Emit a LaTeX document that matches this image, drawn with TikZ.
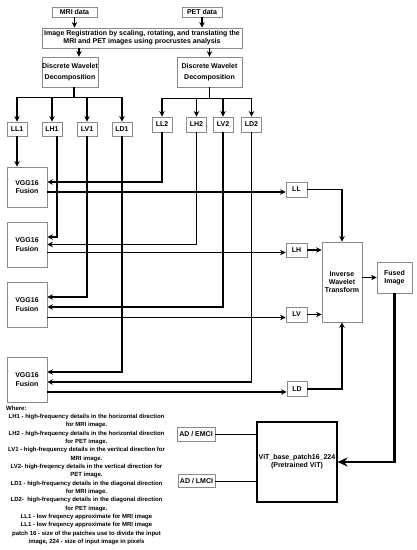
\documentclass[tikz,border=0pt]{standalone}
\usepackage{fontspec}
\setmainfont{Liberation Sans}
\usetikzlibrary{arrows.meta}
\definecolor{edge}{HTML}{8A8A8A}

\begin{document}
\begin{tikzpicture}[x=1pt,y=-1pt,
  box/.style={draw=edge,line width=0.8pt,fill=white,inner sep=0pt,align=center,
    font=\bfseries\fontsize{7}{8.3}\selectfont},
  sz/.style 2 args={minimum width=#1pt,minimum height=#2pt},
  wire/.style={line width=1.4pt,line cap=rect},
  arr/.style={line width=1.4pt,-{Stealth[length=5.5pt,width=5.5pt]}},
  note/.style={inner sep=0pt,align=center,font=\bfseries\fontsize{6}{8.33}\selectfont}]
  \useasboundingbox (0,0) rectangle (417,550);
  \node[box,sz={45}{10}] (mri) at (74.5,12) {MRI data};
  \node[box,sz={40}{10}] (pet) at (202,12) {PET data};
  \node[box,sz={200}{20}] (reg) at (142,38) {Image Registration by scaling, rotating, and translating the\\MRI and PET images using procrustes analysis};
  \node[box,sz={56}{30},font=\bfseries\fontsize{7}{11}\selectfont] (dwtA) at (70,72) {Discrete Wavelet\\Decomposition};
  \node[box,sz={65}{30},font=\bfseries\fontsize{7}{11}\selectfont] (dwtB) at (209.5,72) {Discrete Wavelet\\Decomposition};
  \foreach \n/\t/\x in {ll1/LL1/17,lh1/LH1/52,lv1/LV1/87,ld1/LD1/122}
    \node[box,sz={20}{14}] (\n) at (\x,129) {\t};
  \foreach \n/\t/\x in {ll2/LL2/162,lh2/LH2/196.5,lv2/LV2/223,ld2/LD2/251.5}
    \node[box,sz={20}{15}] (\n) at (\x,124.5) {\t};
  \node[box,sz={40}{40}] (vgg1) at (27,187) {VGG16\\Fusion};
  \node[box,sz={40}{45}] (vgg2) at (27,244.5) {VGG16\\Fusion};
  \node[box,sz={40}{45}] (vgg3) at (27,304.5) {VGG16\\Fusion};
  \node[box,sz={40}{45}] (vgg4) at (27,379.5) {VGG16\\Fusion};
  \node[box,sz={21}{15}] (ll) at (296.5,189.5) {LL};
  \node[box,sz={21}{14}] (lh) at (296.5,250) {LH};
  \node[box,sz={21}{15}] (lv) at (296.5,314.5) {LV};
  \node[box,sz={20}{15}] (ld) at (297,389) {LD};
  \node[box,sz={40}{80}] (iwt) at (342,282) {Inverse\\Wavelet\\Transform};
  \node[box,sz={35}{31}] (fused) at (394.5,277.5) {Fused\\Image};
  \node[box,sz={80}{80},draw=black,line width=1.1pt] (vit) at (297,462) {ViT\_base\_patch16\_224\\(Pretrained ViT)};
  \node[box,sz={38}{14}] (emci) at (196,434) {AD / EMCI};
  \node[box,sz={37}{13}] (lmci) at (196.5,481) {AD / LMCI};

  \draw[arr] (mri) -- (mri |- reg.north);
  \draw[arr] (pet) -- (pet |- reg.north);
  \path ([xshift=9pt]dwtA.north) coordinate (inA);
  \draw[arr] (inA |- reg.south) -- (inA);
  \draw[arr] (dwtB |- reg.south) -- (dwtB.north);
  \draw[wire] ([xshift=4pt]dwtA.south) -- ++(0,10) coordinate (busA);
  \draw[wire] (ll1 |- busA) -- (ld1 |- busA);
  \foreach \n in {ll1,lh1,lv1,ld1} \draw[arr] (\n |- busA) -- (\n.north);
  \draw[wire] (dwtB.south) -- ++(0,11) coordinate (busB);
  \draw[wire] (ll2 |- busB) -- (ld2 |- busB);
  \foreach \n in {ll2,lh2,lv2,ld2} \draw[arr] (\n |- busB) -- (\n.north);

  \draw[arr] (ll1.south) -- (ll1 |- vgg1.north);
  \draw[arr] (ll2.south) |- ([yshift=5pt]vgg1.east);
  \draw[arr] ([xshift=5pt]lh1.south) |- ([yshift=7.5pt]vgg2.east);
  \draw[arr] (lh2.south) |- (vgg2.east);
  \draw[arr] (lv1.south) |- ([yshift=7.5pt]vgg3.east);
  \draw[arr] (lv2.south) |- ([yshift=-2.5pt]vgg3.east);
  \draw[arr] (ld1.south) |- ([yshift=7.5pt]vgg4.east);
  \draw[arr] (ld2.south) |- ([yshift=-2.5pt]vgg4.east);
  \foreach \v/\o/\s in {vgg1/ll/-5,vgg2/lh/-8,vgg3/lv/-13,vgg4/ld/-12.5}
    \draw[arr] ([yshift=\s pt]\v.east) coordinate (out) -- (out -| \o.west);

  \draw[arr] (ll.east) -| (iwt.north);
  \draw[arr] (lh.east) -- (lh.east -| iwt.west);
  \draw[arr] (lv.east) -- (lv.east -| iwt.west);
  \draw[arr] (ld.east) -| (iwt.south);
  \draw[arr] (fused.west -| iwt.east) -- (fused.west);
  \draw[line width=2.8pt,-{Stealth[length=10pt,width=9pt]}] (fused.south) |- (vit.east);
  \draw[line width=0.9pt] (emci.east) -- (emci.east -| vit.west);
  \draw[line width=0.9pt] (lmci.east) -- (lmci.east -| vit.west);

  \node[note,anchor=west] (where) at (6,408) {Where:};
  \node[note,anchor=north] (notes) at (86.5,414) {LH1 - high-frequency details in the horizontal direction\\for MRI image.\\LH2 - high-frequency details in the horizontal direction\\for PET image.\\LV1 - high-frequency details in the vertical direction for\\MRI image.\\LV2- high-freqency details in the vertical direction for\\PET image.\\LD1 - high-frequency details in the diagonal direction\\for MRI image.\\LD2-\ \ high-frequency details in the diagonal direction\\for PET image.\\LL1 - low freqency approximate for MRI image\\LL1 - low freqency approximate for MRI image\\patch 16 - size of the patches use to divide the input\\image, 224 - size of input image in pixels};
\end{tikzpicture}
\end{document}
